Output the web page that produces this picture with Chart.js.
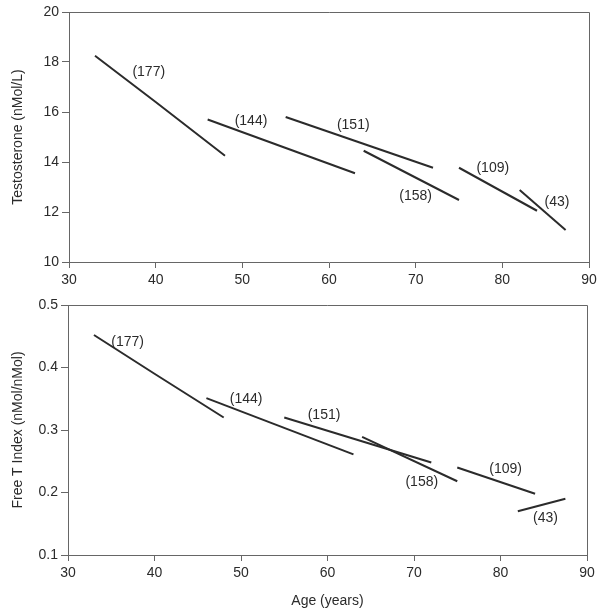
<!DOCTYPE html>
<html lang="en">
<head>
  <meta charset="UTF-8">
  <title>Testosterone and Free T Index by age</title>
  <script src="https://cdn.jsdelivr.net/npm/chart.js"></script>
  <style>
    body { margin: 0; background: #fff; }
    .panel { position: absolute; left: 0; }
  </style>
</head>
<body>
  <div class="panel" style="top:0"><canvas id="topChart" width="602" height="290"></canvas></div>
  <div class="panel" style="top:290px"><canvas id="bottomChart" width="602" height="324"></canvas></div>

  <script>
    // cohort labels (number of men in each follow-up cohort)
    const cohorts = ['(177)', '(144)', '(151)', '(158)', '(109)', '(43)'];

    // testosterone (nMol/L) - start/end age and value per cohort segment
    const tAges = [[33, 40, 48], [46, 63], [55, 72], [64, 75], [75, 84], [82, 87.3]];
    const tVals = [[18.25, 16.4, 14.25], [15.7, 13.55], [15.8, 13.77], [14.45, 12.48], [13.77, 12.05], [12.88, 11.28]];
    const tLabelAge = [39.2, 51, 62.8, 70, 78.9, 86.3];
    const tLabelVal = [17.6, 15.64, 15.48, 12.64, 13.76, 12.4];

    // free T index (nMol/nMol)
    const fAges = [[33, 40, 48], [46, 63], [55, 72], [64, 75], [75, 84], [82, 87.5]];
    const fVals = [[0.452, 0.39, 0.32], [0.351, 0.261], [0.32, 0.248], [0.289, 0.218], [0.24, 0.198], [0.17, 0.19]];
    const fLabelAge = [36.9, 50.6, 59.6, 70.9, 80.6, 85.2];
    const fLabelVal = [0.441, 0.35, 0.324, 0.217, 0.238, 0.159];

    const FONT = "'Liberation Sans', Arial, Helvetica, sans-serif";
    const INK = '#2b2b2b';
    const AXIS = '#666';

    Chart.defaults.font.family = FONT;
    Chart.defaults.font.size = 14;
    Chart.defaults.color = INK;

    // frame on top/right + cohort labels
    const extras = {
      id: 'extras',
      afterDraw(chart, args, opts) {
        const { ctx, chartArea: a, scales } = chart;
        ctx.save();
        ctx.strokeStyle = AXIS;
        ctx.lineWidth = 1;
        ctx.beginPath();
        ctx.moveTo(a.left, a.top + 0.5);
        ctx.lineTo(a.right + 0.5, a.top + 0.5);
        ctx.lineTo(a.right + 0.5, a.bottom);
        ctx.stroke();
        ctx.fillStyle = INK;
        ctx.font = '14px ' + FONT;
        ctx.textAlign = 'center';
        ctx.textBaseline = 'middle';
        opts.ages.forEach((age, i) => {
          ctx.fillText(cohorts[i], scales.x.getPixelForValue(age), scales.y.getPixelForValue(opts.vals[i]));
        });
        ctx.restore();
      }
    };

    function makeDatasets(ages, vals) {
      return ages.map((a, i) => ({
        label: cohorts[i],
        data: a.map((x, j) => ({ x, y: vals[i][j] })),
        showLine: true,
        borderColor: INK,
        borderWidth: 2,
        pointRadius: 0,
        fill: false
      }));
    }

    function makeChart(id, cfg) {
      return new Chart(document.getElementById(id), {
        type: 'scatter',
        data: { datasets: makeDatasets(cfg.ages, cfg.vals) },
        plugins: [extras],
        options: {
          responsive: false,
          animation: false,
          layout: { padding: cfg.padding },
          plugins: {
            legend: { display: false },
            tooltip: { enabled: false },
            extras: { ages: cfg.labelAges, vals: cfg.labelVals }
          },
          scales: {
            x: {
              type: 'linear', min: 30, max: 90,
              ticks: { stepSize: 10, padding: 4 },
              grid: { drawOnChartArea: false, tickLength: 6, color: AXIS },
              border: { color: AXIS },
              title: { display: !!cfg.xTitle, text: cfg.xTitle, padding: { top: 14 } },
              afterFit: s => { s.height = cfg.xHeight; }
            },
            y: {
              min: cfg.yMin, max: cfg.yMax,
              ticks: { stepSize: cfg.yStep, padding: 3, callback: cfg.yFmt },
              grid: { drawOnChartArea: false, tickLength: 7, color: AXIS },
              border: { color: AXIS },
              title: { display: true, text: cfg.yTitle, padding: { top: 10, bottom: 0 } },
              afterFit: s => { s.width = cfg.yWidth; }
            }
          }
        }
      });
    }

    makeChart('topChart', {
      ages: tAges, vals: tVals, labelAges: tLabelAge, labelVals: tLabelVal,
      padding: { top: 12, right: 13, left: 0, bottom: 0 },
      xHeight: 28, yWidth: 69,
      yMin: 10, yMax: 20, yStep: 2, yFmt: v => v,
      yTitle: 'Testosterone (nMol/L)'
    });

    makeChart('bottomChart', {
      ages: fAges, vals: fVals, labelAges: fLabelAge, labelVals: fLabelVal,
      padding: { top: 15, right: 15, left: 0, bottom: 0 },
      xHeight: 59, yWidth: 68,
      yMin: 0.1, yMax: 0.5, yStep: 0.1, yFmt: v => v.toFixed(1),
      yTitle: 'Free T Index (nMol/nMol)',
      xTitle: 'Age (years)'
    });
  </script>
</body>
</html>
